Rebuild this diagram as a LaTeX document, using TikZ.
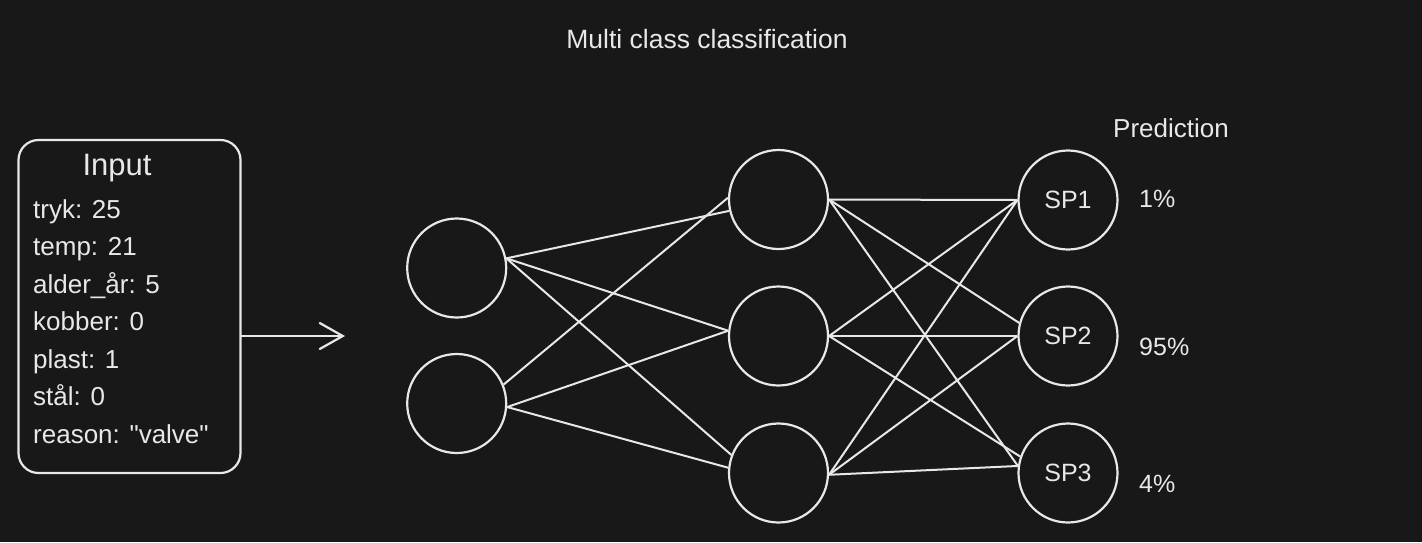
\documentclass[tikz,border=0pt]{standalone}
\usepackage{fontspec}
\setmainfont{Liberation Sans}[Ligatures=TeXOff]
\usetikzlibrary{arrows.meta,positioning}
\definecolor{bgdark}{RGB}{24,24,24}
\definecolor{ink}{RGB}{232,232,232}
\tikzset{
  txt/.style={text=ink,inner sep=0pt,font=\fontsize{26pt}{30pt}\selectfont},
  neuron/.style={circle,draw=ink,line width=2.2pt,minimum size=99pt,inner sep=0pt,
    text=ink,font=\fontsize{25pt}{30pt}\selectfont},
  link/.style={draw=ink,line width=2pt},
}
\begin{document}
\begin{tikzpicture}[x=1pt,y=-1pt,>=stealth]
    \fill[bgdark] (0,0) rectangle (1422,542); % background
    \useasboundingbox (0,0) rectangle (1422,542);

    \node[txt,anchor=base,font=\fontsize{26.5pt}{30pt}\selectfont] (title) at (707,48) {Multi class classification};

    % input box
    \node[draw=ink,line width=2.2pt,rounded corners=20pt,minimum width=222pt,minimum height=333pt] (input) at (129.5,306.5) {};
    \node[txt,anchor=base,font=\fontsize{31pt}{34pt}\selectfont] (inputtitle) at (117,175) {Input};
    \foreach \txt [count=\i] in {tryk: 25, temp: 21, alder\_år: 5, kobber: 0, plast: 1, stål: 0, reason: "valve"}
        \node[txt,anchor=base west] (item\i) at (33,{218+(\i-1)*37.5}) {\txt};

    % arrow into the network
    \coordinate (arrowtip) at (345,336);
    \draw[draw=ink,line width=2.2pt,line cap=round,-{Straight Barb[length=23pt,width=26pt,line cap=round]}] (input.east |- arrowtip) -- (arrowtip);

    % input layer
    \node[neuron] (i1) at (456.7,268) {};
    \node[neuron] (i2) at (456.7,403.5) {};

    % hidden layer
    \node[neuron] (h1) at (778.5,199.5) {};
    \node[neuron] (h2) at (778.5,336) {};
    \node[neuron] (h3) at (778.5,473) {};

    % output layer
    \node[neuron] (o1) at (1068,200) {SP1};
    \node[neuron] (o2) at (1068,336) {SP2};
    \node[neuron] (o3) at (1068,473) {SP3};

    % input -> hidden
    \draw[link] (i1.11) -- (h1.193);
    \draw[link] (i1.11) -- (h2.174);
    \draw[link] (i1.11) -- (h3.159);
    \draw[link] (i2.22) -- (h1.178);
    \draw[link] (i2.-4) -- (h2.174);
    \draw[link] (i2.-4) -- (h3.174);

    % hidden -> output
    \draw[link] (h1.east) -- (o1.west);
    \draw[link] (h1.east) -- (o2.165);
    \draw[link] (h1.east) -- (o3.172);
    \draw[link] (h2.east) -- (o1.west);
    \draw[link] (h2.east) -- (o2.west);
    \draw[link] (h2.east) -- (o3.161);
    \draw[link] (h3.-2) -- (o1.west);
    \draw[link] (h3.-2) -- (o2.west);
    \draw[link] (h3.-2) -- (o3.172);

    % predictions
    \node[txt,anchor=base] (predtitle) at (1171,137) {Prediction};
    \node[txt,anchor=base west,font=\fontsize{25pt}{30pt}\selectfont] (p1) at (1139,207) {1\%};
    \node[txt,anchor=base west,font=\fontsize{25pt}{30pt}\selectfont] (p2) at (1139,355) {95\%};
    \node[txt,anchor=base west,font=\fontsize{25pt}{30pt}\selectfont] (p3) at (1139,492.5) {4\%};
\end{tikzpicture}
\end{document}
